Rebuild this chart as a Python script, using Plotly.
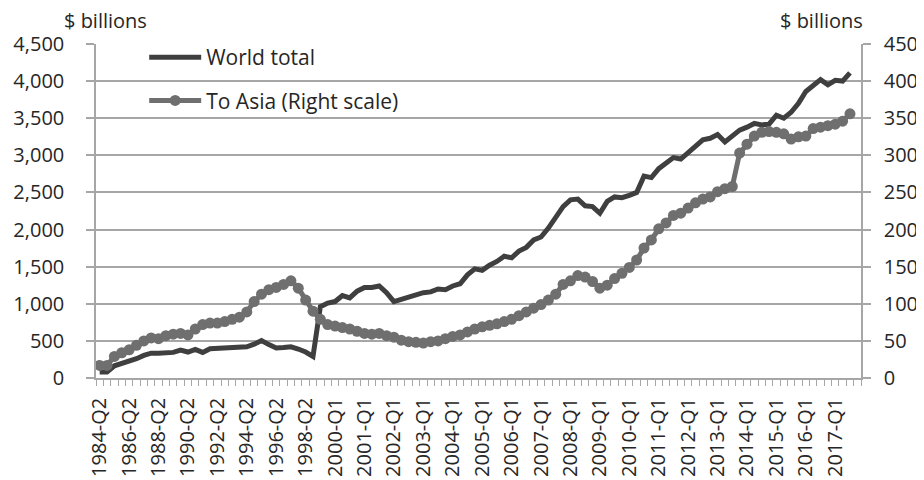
import plotly.graph_objects as go

# Categories: semiannual 1984-Q2..1999-Q4, then quarterly 2000-Q1..2017-Q4
categories = []
for yr in range(1984, 2000):
    categories += [f"{yr}-Q2", f"{yr}-Q4"]
for yr in range(2000, 2018):
    categories += [f"{yr}-Q{q}" for q in range(1, 5)]

world_total = [
    80, 80, 165, 195, 225, 260, 305, 335, 335, 340,
    345, 375, 350, 385, 345, 395, 400, 395, 395, 400,
    420, 455, 505, 450, 405, 410, 420, 390, 350, 290,
    960, 1010, 1030, 1110, 1080, 1170, 1220, 1220, 1240, 1150,
    1030, 1060, 1090, 1120, 1150, 1160, 1200, 1190, 1240, 1270,
    1390, 1470, 1450, 1520, 1570, 1640, 1620, 1710, 1760, 1860,
    1900, 2020, 2160, 2310, 2400, 2410, 2320, 2310, 2220, 2380,
    2440, 2430, 2460, 2500, 2720, 2700, 2820, 2900, 2970, 2950,
    3030, 3120, 3210, 3230, 3280, 3180, 3270, 3340, 3380, 3430,
    3410, 3420, 3540, 3500, 3580, 3700, 3860, 3940, 4020, 3950,
    4010, 4000, 4110, None,
]

to_asia = [
    17, 17, 29, 34, 38, 44, 50, 54, 53, 57,
    59, 60, 58, 66, 72, 74, 74, 76, 79, 82,
    89, 103, 113, 119, 122, 126, 131, 121, 105, 90,
    79, 72, 70, 68, 66, 63, 60, 59, 60, 57,
    55, 51, 49, 48, 47, 49, 50, 53, 56, 58,
    62, 66, 69, 71, 73, 76, 79, 84, 89, 94,
    99, 105, 113, 126, 131, 138, 136, 130, 121, 125,
    134, 141, 149, 159, 175, 186, 201, 209, 219, 222,
    229, 236, 241, 244, 251, 255, 258, 303, 315, 326,
    331, 332, 331, 329, 322, 325, 326, 336, 338, 340,
    342, 346, 356, None,
]

idx = list(range(len(categories)))
tick_idx = idx[:101:4]
tick_text = [categories[i] for i in tick_idx]

FONT = "Open Sans"
TXT = "#262626"
GRID = "#a6a6a6"

fig = go.Figure()
fig.add_trace(go.Scatter(
    x=idx, y=world_total, name="World total", mode="lines",
    line=dict(color="#3f3f3f", width=5), legendgroup="a",
))
fig.add_trace(go.Scatter(
    x=idx, y=to_asia, name="To Asia (Right scale)", mode="lines+markers",
    line=dict(color="#6f6f6f", width=5),
    marker=dict(size=11, color="#6f6f6f"),
    yaxis="y2", legendgroup="b",
))

# page body has an 8px margin, so the figure is 916x472 placed at (8, 8)
fig.update_layout(
    width=916, height=472,
    margin=dict(l=88, r=63, t=36, b=102, autoexpand=False),
    paper_bgcolor="white", plot_bgcolor="white",
    font=dict(family=FONT, size=20, color=TXT),
    showlegend=True,
    legend=dict(
        x=0.063, y=1.021, xanchor="left", yanchor="top",
        bgcolor="rgba(0,0,0,0)", font=dict(size=21, color=TXT),
        traceorder="grouped", tracegroupgap=13, itemwidth=52,
    ),
    xaxis=dict(
        range=[-0.5, len(categories) - 0.5], automargin=False,
        tickmode="array", tickvals=tick_idx, ticktext=tick_text,
        tickangle=-90, ticks="outside", ticklen=10, tickcolor="rgba(0,0,0,0)",
        showline=True, linecolor=GRID, linewidth=1.5,
        showgrid=False, zeroline=False,
        tickfont=dict(size=20, color=TXT),
        minor=dict(tickmode="linear", tick0=-0.5, dtick=1, ticks="outside",
                   ticklen=6, tickcolor=GRID, tickwidth=1, showgrid=False),
    ),
    yaxis=dict(
        range=[0, 4500], dtick=500, tickformat=",", automargin=False,
        showgrid=True, gridcolor=GRID, gridwidth=1.5,
        ticks="outside", ticklen=8, tickcolor=GRID, tickwidth=1.5,
        showline=True, linecolor=GRID, linewidth=1.5, zeroline=False,
        ticklabelstandoff=18,
        tickfont=dict(size=20, color=TXT),
    ),
    yaxis2=dict(
        range=[0, 450], dtick=50, overlaying="y", side="right", automargin=False,
        showgrid=False, ticks="outside", ticklen=8, tickcolor=GRID, tickwidth=1.5,
        showline=True, linecolor=GRID, linewidth=1.5, zeroline=False,
        ticklabelstandoff=9,
        tickfont=dict(size=20, color=TXT),
    ),
    annotations=[
        dict(text="$ billions", xref="paper", yref="paper", x=0.013, y=1.0,
             xanchor="center", yanchor="middle", yshift=24, showarrow=False,
             font=dict(size=20, color=TXT)),
        dict(text="$ billions", xref="paper", yref="paper", x=0.949, y=1.0,
             xanchor="center", yanchor="middle", yshift=24, showarrow=False,
             font=dict(size=20, color=TXT)),
    ],
)

fig.write_html("out.html")
